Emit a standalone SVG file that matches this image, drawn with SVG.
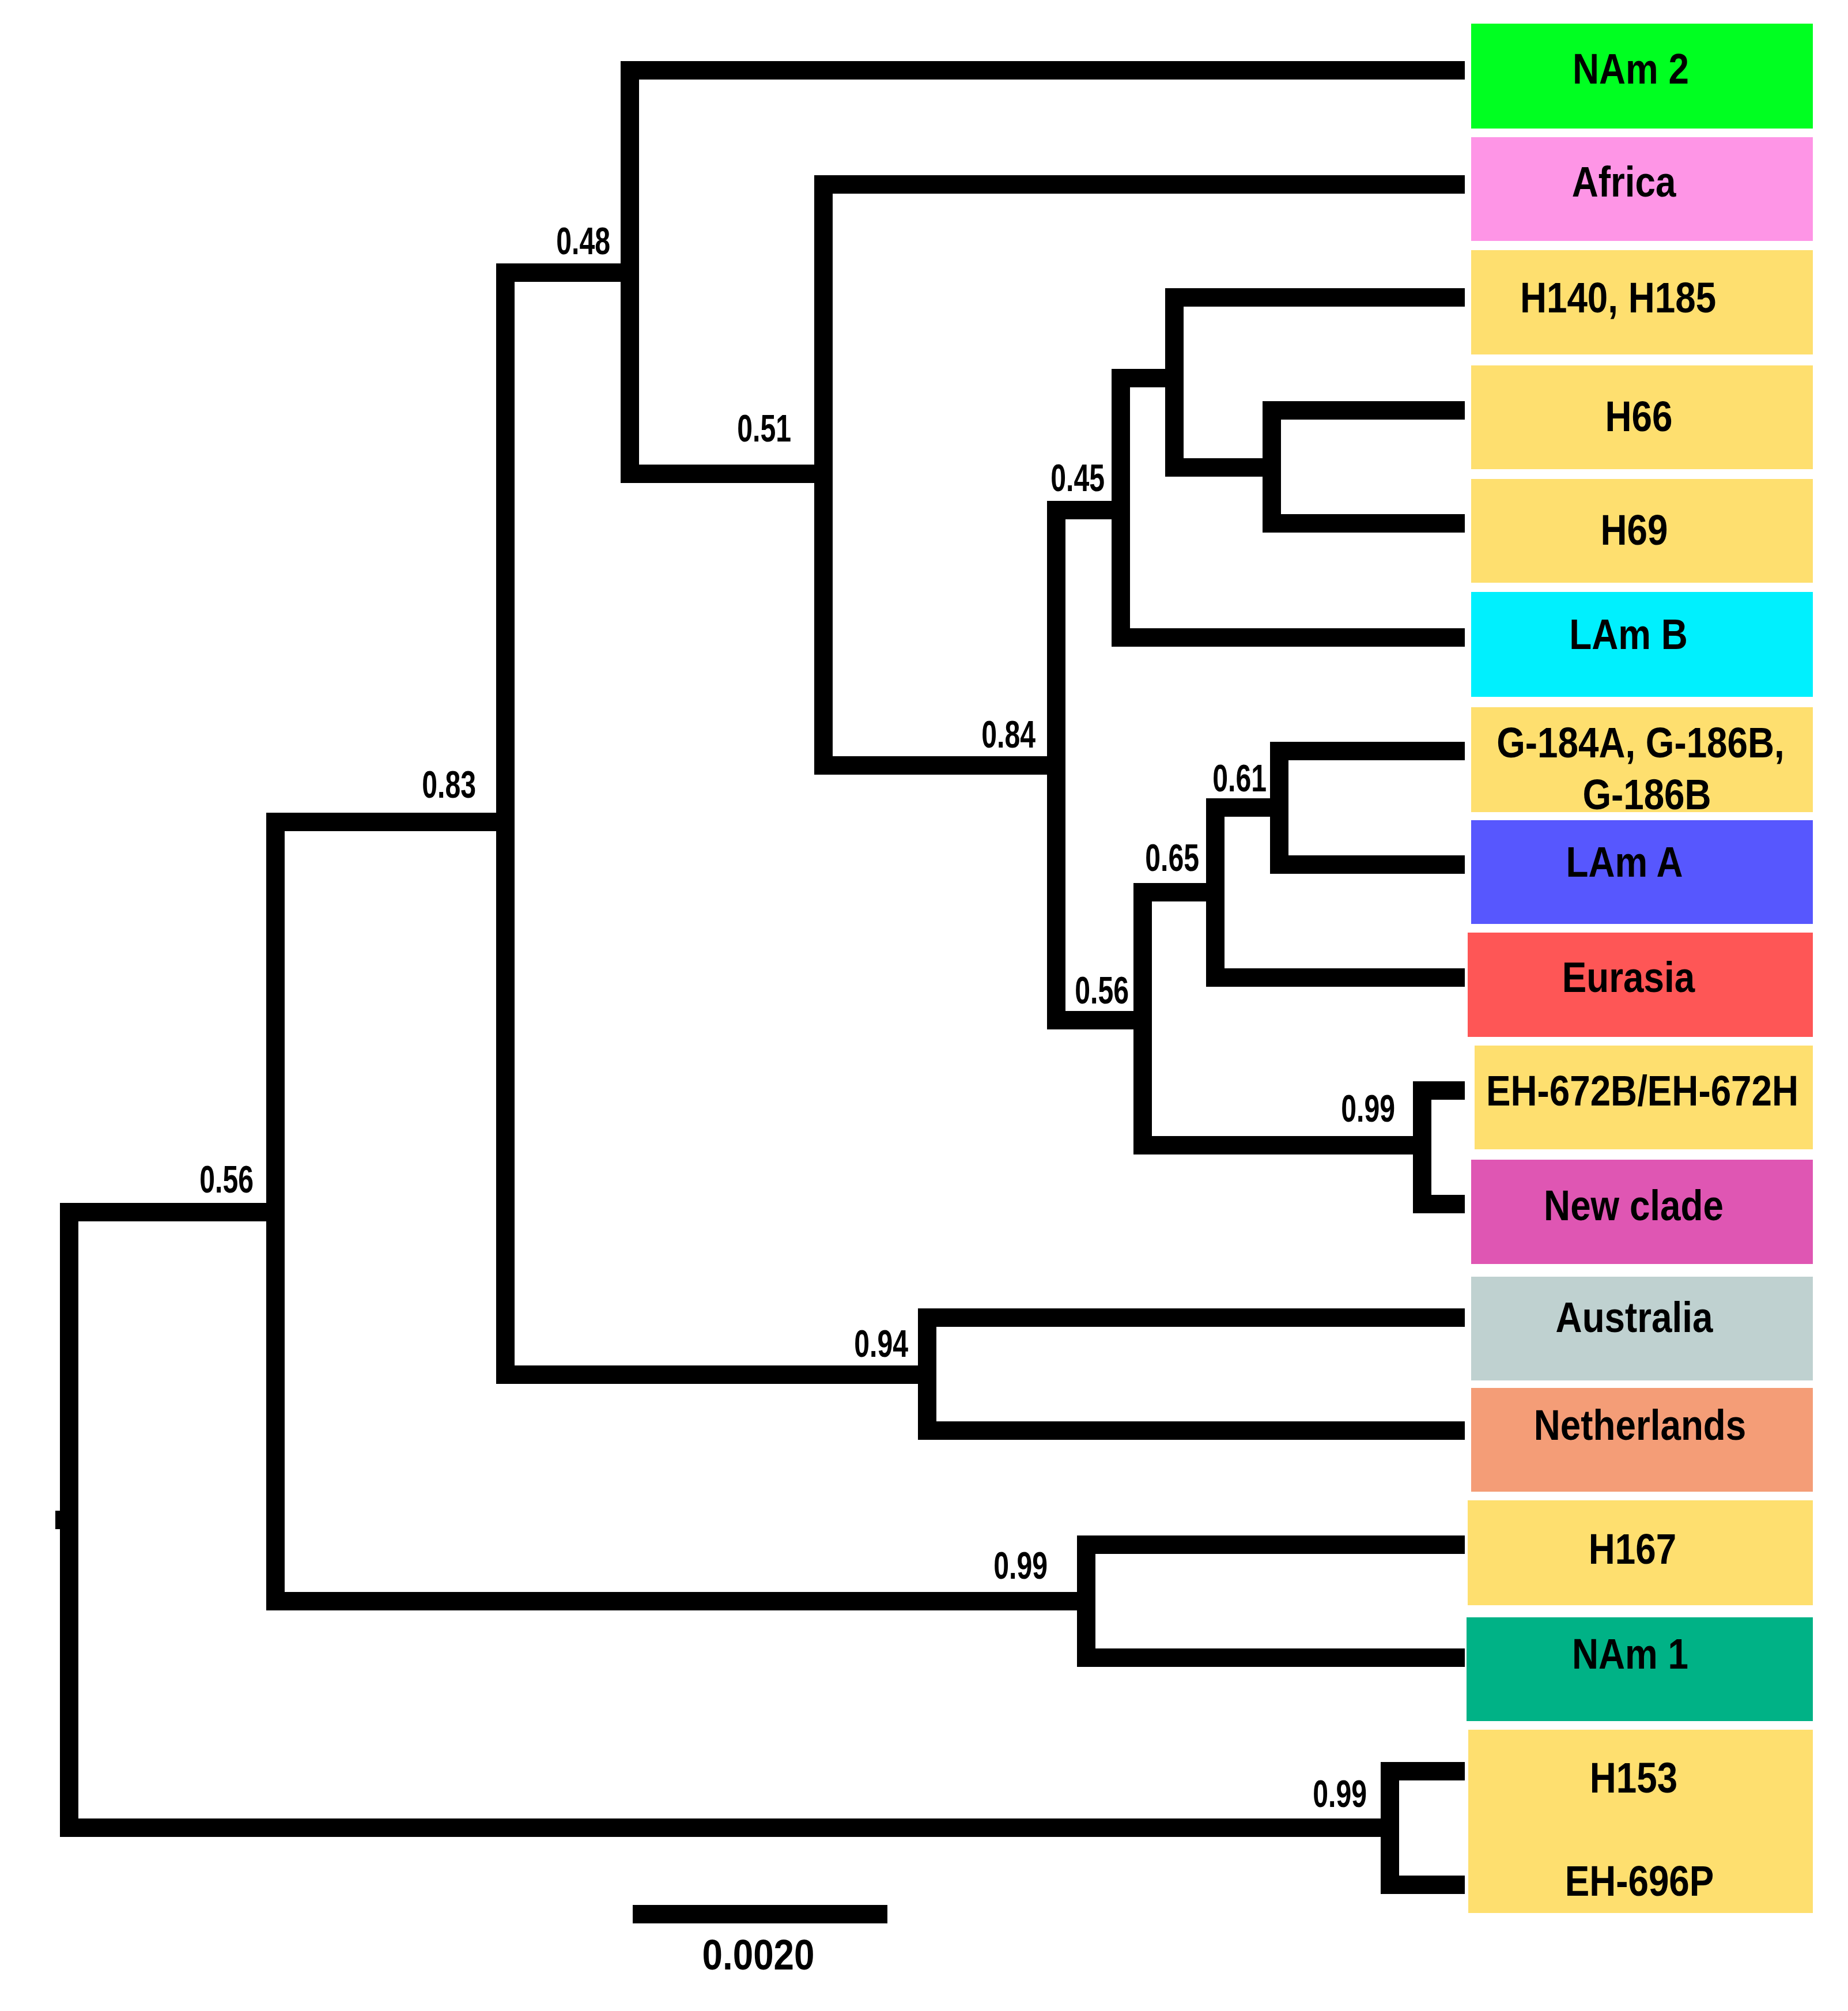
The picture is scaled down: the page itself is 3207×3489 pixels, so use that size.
<svg xmlns="http://www.w3.org/2000/svg" width="3207" height="3489" viewBox="0 0 3207 3489">
<style>
.br{fill:none;stroke:#000;stroke-width:32;stroke-linejoin:miter;stroke-linecap:butt}
.tl{font-family:"Liberation Sans",Arial,sans-serif;font-weight:bold;font-size:75px;fill:#000;text-anchor:middle}
.sv{font-family:"Liberation Sans",Arial,sans-serif;font-weight:bold;font-size:66px;fill:#000;text-anchor:end}
.yel{fill:#fedf6f}
</style>
<rect width="3207" height="3489" fill="#fff"/>
<g id="connectors">
<path class="br" d="M96 2637 H120"/>
<path class="br" d="M478 2103 H120 V3171 H2412"/>
<path class="br" d="M2542 3073 H2412 V3270 H2542"/>
<path class="br" d="M877 1426 H478 V2778 H1885"/>
<path class="br" d="M2542 2680 H1885 V2876 H2542"/>
<path class="br" d="M1093 473 H877 V2385 H1609"/>
<path class="br" d="M2542 2286 H1609 V2482 H2542"/>
<path class="br" d="M2542 122 H1093 V822 H1429"/>
<path class="br" d="M2542 320 H1429 V1328 H1833"/>
<path class="br" d="M1945 885 H1833 V1770 H1983"/>
<path class="br" d="M2038 656 H1945 V1106 H2542"/>
<path class="br" d="M2542 516 H2038 V811 H2207"/>
<path class="br" d="M2542 712 H2207 V908 H2542"/>
<path class="br" d="M2109 1548 H1983 V1987 H2468"/>
<path class="br" d="M2220 1401 H2109 V1696 H2542"/>
<path class="br" d="M2542 1303 H2220 V1500 H2542"/>
<path class="br" d="M2542 1892 H2468 V2089 H2542"/>
</g>
<g id="support">
<text class="sv" transform="translate(440 2069) scale(0.73 1)">0.56</text>
<text class="sv" transform="translate(826 1384) scale(0.73 1)">0.83</text>
<text class="sv" transform="translate(1059 441) scale(0.73 1)">0.48</text>
<text class="sv" transform="translate(1373 766) scale(0.73 1)">0.51</text>
<text class="sv" transform="translate(1917 852) scale(0.73 1)">0.45</text>
<text class="sv" transform="translate(1797 1297) scale(0.73 1)">0.84</text>
<text class="sv" transform="translate(2198 1373) scale(0.73 1)">0.61</text>
<text class="sv" transform="translate(2081 1511) scale(0.73 1)">0.65</text>
<text class="sv" transform="translate(1959 1741) scale(0.73 1)">0.56</text>
<text class="sv" transform="translate(2421 1946) scale(0.73 1)">0.99</text>
<text class="sv" transform="translate(1576 2354) scale(0.73 1)">0.94</text>
<text class="sv" transform="translate(1818 2739) scale(0.73 1)">0.99</text>
<text class="sv" transform="translate(2372 3135) scale(0.73 1)">0.99</text>
</g>
<g id="tip-nam2"><rect x="2553" y="41" width="593" height="182" fill="#00ff21"/><text class="tl" transform="translate(2830 145) scale(0.85 1)">NAm 2</text></g>
<g id="tip-africa"><rect x="2553" y="238" width="593" height="180" fill="#fe95e6"/><text class="tl" transform="translate(2818 341) scale(0.85 1)">Africa</text></g>
<g id="tip-h140"><rect class="yel" x="2553" y="434" width="593" height="181"/><text class="tl" transform="translate(2808 542) scale(0.85 1)">H140, H185</text></g>
<g id="tip-h66"><rect class="yel" x="2553" y="634" width="593" height="180"/><text class="tl" transform="translate(2844 748) scale(0.85 1)">H66</text></g>
<g id="tip-h69"><rect class="yel" x="2553" y="831" width="593" height="180"/><text class="tl" transform="translate(2836 945) scale(0.85 1)">H69</text></g>
<g id="tip-lamb"><rect x="2553" y="1027" width="593" height="182" fill="#00f0fe"/><text class="tl" transform="translate(2826 1126) scale(0.85 1)">LAm B</text></g>
<g id="tip-g184"><rect class="yel" x="2553" y="1227" width="593" height="182"/><text class="tl" transform="translate(2847 1314) scale(0.85 1)">G-184A, G-186B,</text><text class="tl" transform="translate(2858 1404) scale(0.85 1)">G-186B</text></g>
<g id="tip-lama"><rect x="2553" y="1423" width="593" height="180" fill="#5757fe"/><text class="tl" transform="translate(2819 1521) scale(0.85 1)">LAm A</text></g>
<g id="tip-eurasia"><rect x="2547" y="1618" width="599" height="181" fill="#fe5656"/><text class="tl" transform="translate(2826 1721) scale(0.85 1)">Eurasia</text></g>
<g id="tip-eh672"><rect class="yel" x="2559" y="1814" width="587" height="180"/><text class="tl" transform="translate(2850 1918) scale(0.85 1)">EH-672B/EH-672H</text></g>
<g id="tip-newclade"><rect x="2553" y="2012" width="593" height="181" fill="#df56b3"/><text class="tl" transform="translate(2835 2117) scale(0.85 1)">New clade</text></g>
<g id="tip-australia"><rect x="2553" y="2215" width="593" height="180" fill="#bfd1d0"/><text class="tl" transform="translate(2836 2311) scale(0.85 1)">Australia</text></g>
<g id="tip-netherlands"><rect x="2553" y="2408" width="593" height="180" fill="#f49d77"/><text class="tl" transform="translate(2846 2498) scale(0.85 1)">Netherlands</text></g>
<g id="tip-h167"><rect class="yel" x="2547" y="2603" width="599" height="182"/><text class="tl" transform="translate(2833 2713) scale(0.85 1)">H167</text></g>
<g id="tip-nam1"><rect x="2545" y="2806" width="601" height="180" fill="#00b286"/><text class="tl" transform="translate(2829 2895) scale(0.85 1)">NAm 1</text></g>
<g id="tip-h153"><rect class="yel" x="2548" y="3001" width="598" height="318"/><text class="tl" transform="translate(2835 3110) scale(0.85 1)">H153</text><text class="tl" transform="translate(2845 3289) scale(0.85 1)">EH-696P</text></g>
<g id="scale-bar"><rect x="1098" y="3305" width="442" height="32" fill="#000"/><text class="tl" transform="translate(1316 3417) scale(0.85 1)">0.0020</text></g>
</svg>
